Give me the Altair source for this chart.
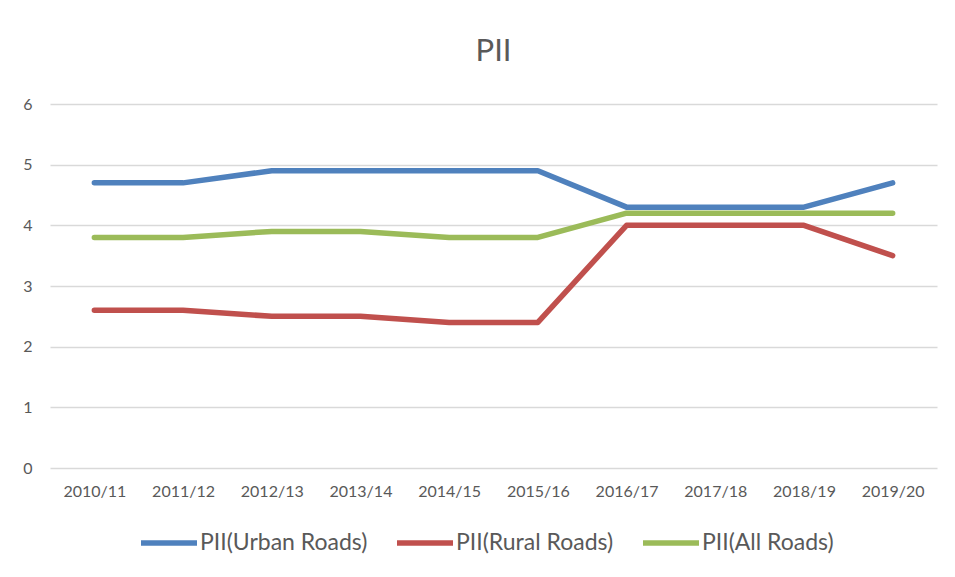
import altair as alt
import pandas as pd

years = ["2010/11", "2011/12", "2012/13", "2013/14", "2014/15",
         "2015/16", "2016/17", "2017/18", "2018/19", "2019/20"]
urban = [4.7, 4.7, 4.9, 4.9, 4.9, 4.9, 4.3, 4.3, 4.3, 4.7]
rural = [2.6, 2.6, 2.5, 2.5, 2.4, 2.4, 4.0, 4.0, 4.0, 3.5]
all_roads = [3.8, 3.8, 3.9, 3.9, 3.8, 3.8, 4.2, 4.2, 4.2, 4.2]
series_names = ["PII(Urban Roads)", "PII(Rural Roads)", "PII(All Roads)"]
colors = ["#4F81BD", "#C0504D", "#9BBB59"]
y_ticks = [0, 1, 2, 3, 4, 5, 6]

rows = []
for name, vals in zip(series_names, [urban, rural, all_roads]):
    for yr, v in zip(years, vals):
        rows.append({"Year": yr, "Series": name, "PII": v})
df = pd.DataFrame(rows)

label_color = "#595959"
grid_color = "#D9D9D9"

chart = alt.Chart(df, title=alt.TitleParams(
    "PII", fontSize=31, font="Lato", fontWeight="normal", color=label_color,
    anchor="middle", offset=28)).mark_line(
    strokeWidth=5.5, strokeCap="round", strokeJoin="round"
).encode(
    x=alt.X("Year:O", sort=years,
            scale=alt.Scale(type="point", padding=0.5),
            axis=alt.Axis(title=None, labelAngle=0, domain=False, ticks=False,
                          grid=False, labelFontSize=16, labelColor=label_color,
                          labelFont="Lato", labelPadding=15)),
    y=alt.Y("PII:Q", scale=alt.Scale(domain=[0, 6], nice=False, zero=True),
            axis=alt.Axis(title=None, values=y_ticks, domain=False, ticks=False,
                          grid=True, gridColor=grid_color, gridWidth=1.3,
                          labelFontSize=16, labelColor=label_color,
                          labelFont="Lato", labelPadding=18)),
    color=alt.Color("Series:N",
                    scale=alt.Scale(domain=series_names, range=colors),
                    legend=alt.Legend(title=None, orient="none", direction="horizontal",
                                      legendX=88, legendY=408,
                                      symbolType="stroke", symbolSize=3136,
                                      symbolStrokeWidth=5.5, labelFontSize=23,
                                      labelFont="Lato", labelColor=label_color,
                                      labelOffset=0, columnPadding=18, labelLimit=0)),
).properties(
    width=887, height=364,
    autosize=alt.AutoSizeParams(type="none"),
    padding={"left": 42, "top": 96, "right": 10, "bottom": 101},
).configure(font="Lato", background="white").configure_view(stroke=None)

chart.save("out.html", embed_options={"renderer": "svg", "actions": False})
